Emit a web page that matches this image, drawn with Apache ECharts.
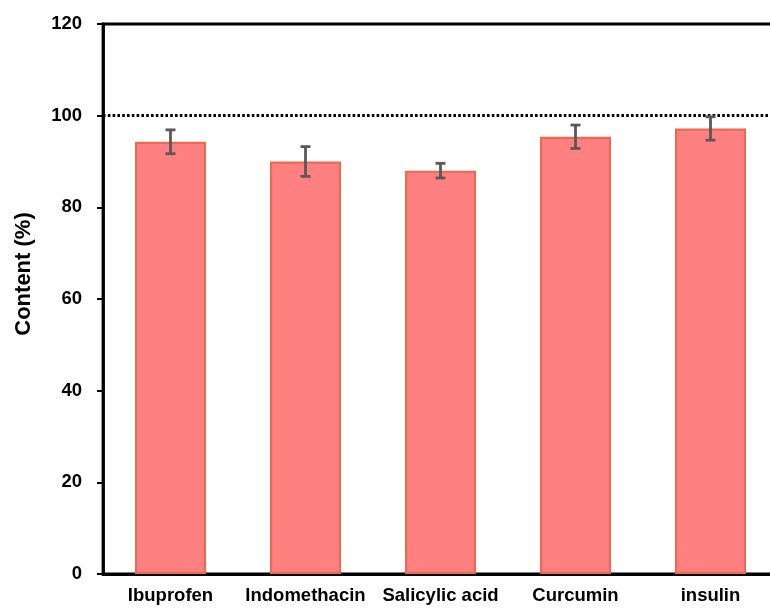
<!DOCTYPE html>
<html>
<head>
<meta charset="utf-8">
<script src="https://cdn.jsdelivr.net/npm/echarts@6/dist/echarts.min.js"></script>
<style>
  html, body { margin: 0; padding: 0; background: #fff; overflow: hidden; }
  #chart { width: 800px; height: 608px; }
</style>
</head>
<body>
<div id="chart"></div>
<script>
// Drug content measurements (%), mean and standard deviation
const categories = ['Ibuprofen', 'Indomethacin', 'Salicylic acid', 'Curcumin', 'insulin'];
const contentMean = [94.3, 90.0, 88.0, 95.4, 97.2];
const contentSd = [2.6, 3.25, 1.6, 2.55, 2.55];
const referenceLevel = 100;
const yTicks = { min: 0, max: 120, interval: 20 };

const FONT = '"Liberation Sans", Arial, sans-serif';

const errorData = categories.map((c, i) => [i, contentMean[i] - contentSd[i], contentMean[i] + contentSd[i]]);

const chart = echarts.init(document.getElementById('chart'), null, { renderer: 'canvas' });

chart.setOption({
  animation: false,
  grid: {
    left: 103, top: 24, width: 675, height: 550,
    show: true, borderColor: '#000', borderWidth: 2.8, backgroundColor: 'transparent'
  },
  xAxis: {
    type: 'category',
    data: categories,
    axisLine: { lineStyle: { color: '#000', width: 2.8 } },
    axisTick: { show: false },
    axisLabel: { interval: 0, color: '#000', fontFamily: FONT, fontWeight: 'bold', fontSize: 18.5, margin: 12 }
  },
  yAxis: {
    type: 'value',
    min: yTicks.min, max: yTicks.max, interval: yTicks.interval,
    splitLine: { show: false },
    axisLine: { show: true, lineStyle: { color: '#000', width: 2.8 } },
    axisTick: { show: true, length: 6, lineStyle: { color: '#000', width: 2 } },
    axisLabel: { color: '#000', fontFamily: FONT, fontWeight: 'bold', fontSize: 18.5, margin: 21 }
  },
  graphic: [{
    type: 'text',
    x: 24, y: 274,
    rotation: Math.PI / 2,
    style: {
      text: 'Content (%)',
      fill: '#000',
      font: 'bold 22px ' + FONT,
      align: 'center',
      verticalAlign: 'middle'
    }
  }],
  series: [
    {
      type: 'bar',
      data: contentMean,
      barWidth: 71,
      itemStyle: { color: '#FF8080', borderColor: '#EC6A52', borderWidth: 2.2 },
      markLine: {
        silent: true,
        symbol: 'none',
        label: { show: false },
        lineStyle: { color: '#000', type: [2.6, 2.2], width: 2.8 },
        data: [{ yAxis: referenceLevel }]
      },
      z: 2
    },
    {
      type: 'custom',
      data: errorData,
      z: 5,
      renderItem: function (params, api) {
        const x = api.value(0);
        const lo = api.coord([x, api.value(1)]);
        const hi = api.coord([x, api.value(2)]);
        const half = 5;
        const style = { stroke: '#595959', lineWidth: 2.8 };
        return {
          type: 'group',
          children: [
            { type: 'line', shape: { x1: lo[0], y1: lo[1], x2: hi[0], y2: hi[1] }, style },
            { type: 'line', shape: { x1: lo[0] - half, y1: lo[1], x2: lo[0] + half, y2: lo[1] }, style },
            { type: 'line', shape: { x1: hi[0] - half, y1: hi[1], x2: hi[0] + half, y2: hi[1] }, style }
          ]
        };
      }
    }
  ]
});
</script>
</body>
</html>
